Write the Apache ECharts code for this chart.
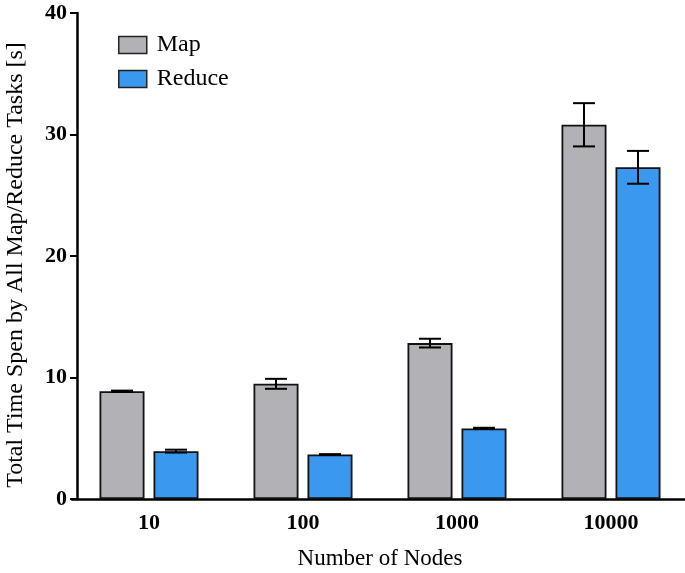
<!DOCTYPE html>
<html>
<head>
<meta charset="utf-8">
<script src="https://cdn.jsdelivr.net/npm/echarts@6/dist/echarts.min.js"></script>
<style>html,body{margin:0;padding:0;background:#fff}#c{width:685px;height:573px}</style>
</head>
<body>
<div id="c"></div>
<script>
var categories = ['10', '100', '1000', '10000'];
var mapValues = [8.87, 9.48, 12.83, 30.8];
var mapErr = [0.05, 0.41, 0.36, 1.78];
var reduceValues = [3.94, 3.66, 5.81, 27.3];
var reduceErr = [0.12, 0.03, 0.05, 1.35];
var yTicks = [0, 10, 20, 30, 40];

var FONT = '"Liberation Serif", "Times New Roman", serif';
var BAR_W = 45, OFFS = 27, CAP = 11;

function errData(vals, errs) {
  return vals.map(function (v, i) { return [i, v, errs[i]]; });
}
function errRender(sign) {
  return function (params, api) {
    var i = api.value(0), v = api.value(1), e = api.value(2);
    var top = api.coord([i, v + e]);
    var bot = api.coord([i, v - e]);
    var x = top[0] + sign * OFFS;
    var st = { stroke: '#000', lineWidth: 2 };
    return {
      type: 'group',
      children: [
        { type: 'line', shape: { x1: x, y1: top[1], x2: x, y2: bot[1] }, style: st },
        { type: 'line', shape: { x1: x - CAP, y1: top[1], x2: x + CAP, y2: top[1] }, style: st },
        { type: 'line', shape: { x1: x - CAP, y1: bot[1], x2: x + CAP, y2: bot[1] }, style: st }
      ]
    };
  };
}

var chart = echarts.init(document.getElementById('c'), null, { renderer: 'canvas' });
chart.setOption({
  animation: false,
  backgroundColor: '#fff',
  grid: { left: 72, right: -3, top: 13, bottom: 74, containLabel: false, outerBoundsMode: 'none' },
  legend: {
    orient: 'vertical', left: 113, top: 28,
    itemWidth: 28, itemHeight: 17, itemGap: 10,
    icon: 'rect',
    itemStyle: { borderColor: '#222', borderWidth: 1.5 },
    textStyle: { fontFamily: FONT, fontSize: 24, color: '#000', padding: [0, 0, 0, 5] },
    data: ['Map', 'Reduce']
  },
  xAxis: {
    type: 'category', data: categories,
    name: 'Number of Nodes', nameLocation: 'middle', nameGap: 48,
    nameTextStyle: { fontFamily: FONT, fontSize: 23, color: '#000' },
    axisLine: { lineStyle: { color: '#000', width: 2.5 } },
    axisTick: { alignWithLabel: true, length: 6, lineStyle: { color: '#000', width: 2 } },
    axisLabel: { fontFamily: FONT, fontSize: 22, fontWeight: 'bold', color: '#000', margin: 13 }
  },
  yAxis: {
    type: 'value', min: 0, max: 40, interval: 10, offset: -5,
    name: 'Total Time Spen by All Map/Reduce Tasks [s]', nameLocation: 'middle', nameGap: 49,
    nameTextStyle: { fontFamily: FONT, fontSize: 24, color: '#000', padding: [0, 18, 0, 0] },
    axisLine: { show: true, lineStyle: { color: '#000', width: 2.5 } },
    axisTick: { show: true, length: 7, lineStyle: { color: '#000', width: 2 } },
    axisLabel: { fontFamily: FONT, fontSize: 22, fontWeight: 'bold', color: '#000', margin: 10,
      formatter: function (v) { return yTicks.indexOf(v) >= 0 ? String(v) : ''; } },
    splitLine: { show: false }
  },
  series: [
    { name: 'Map', type: 'bar', data: mapValues, barWidth: BAR_W, barGap: '20%',
      itemStyle: { color: '#b2b1b6', borderColor: '#111', borderWidth: 1.8 } },
    { name: 'Reduce', type: 'bar', data: reduceValues, barWidth: BAR_W,
      itemStyle: { color: '#3a99ee', borderColor: '#111', borderWidth: 1.8 } },
    { type: 'custom', renderItem: errRender(-1), data: errData(mapValues, mapErr),
      encode: { x: 0, y: 1 }, z: 10, silent: true },
    { type: 'custom', renderItem: errRender(1), data: errData(reduceValues, reduceErr),
      encode: { x: 0, y: 1 }, z: 10, silent: true }
  ]
});
</script>
</body>
</html>
